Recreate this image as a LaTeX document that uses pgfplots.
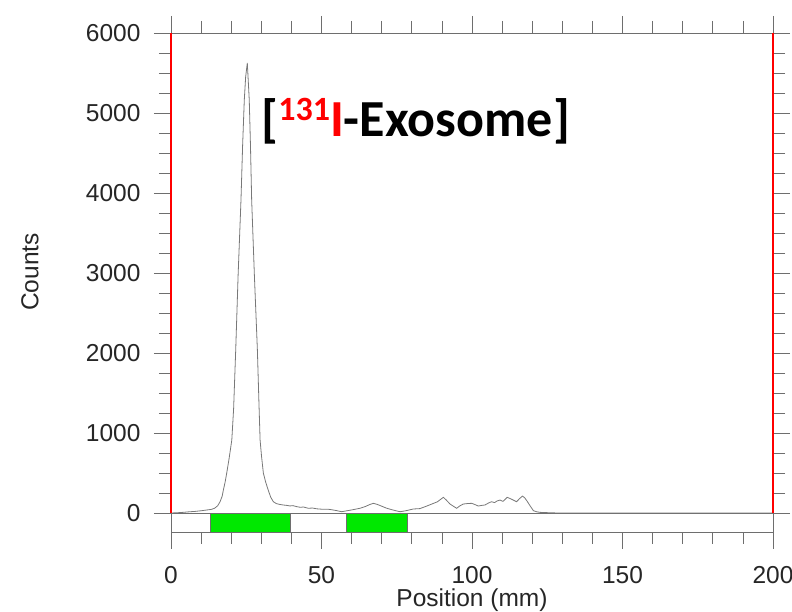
\documentclass[border=0pt]{standalone}
\usepackage{pgfplots}
\pgfplotsset{compat=1.18}
\usepackage{fontspec}
\setmainfont{Liberation Sans}
\newfontfamily\calibri{Carlito}
\definecolor{axgray}{RGB}{110,110,110}
\definecolor{curvegray}{RGB}{120,120,120}
\definecolor{roigreen}{RGB}{0,232,0}
\begin{document}
\begin{tikzpicture}
\begin{axis}[
  at={(0,0)}, anchor=south west,
  scale only axis, width=602pt, height=499pt,
  xmin=0, xmax=200, ymin=-237.5, ymax=6000,
  axis line style={draw=none},
  xtick={0,50,100,150,200}, minor x tick num=4,
  ytick={0,1000,2000,3000,4000,5000,6000}, minor y tick num=3,
  tick align=outside, major tick length=17pt, minor tick length=12pt,
  tick style={axgray, line width=0.8pt},
  /pgf/number format/assume math mode=true,
  scaled y ticks=false,
  yticklabel={\pgfmathprintnumber[fixed,1000 sep={}]{\tick}},
  ticklabel style={font=\fontsize{24.5}{28}\selectfont, text=black!85},
  yticklabel style={xshift=-10pt},
  xticklabel style={yshift=-14pt},
  xlabel={Position (mm)}, ylabel={Counts},
  label style={font=\fontsize{24.5}{28}\selectfont, text=black!85},
  xlabel style={at={(axis description cs:0.5,0)}, anchor=base, yshift=-75pt},
  ylabel style={at={(axis description cs:-0.2342,0.521)}, anchor=center},
  clip=false,
]
% strip and frame lines
\draw[axgray, line width=0.8pt] (axis cs:0,-237.5) rectangle (axis cs:200,0);
\draw[axgray, line width=0.8pt] (axis cs:0,6000) -- (axis cs:200,6000);
% ROI bars
\addplot[draw=axgray, line width=0.5pt, fill=roigreen] coordinates {(13.2,0) (39.6,0) (39.6,-237.5) (13.2,-237.5)} -- cycle;
\addplot[draw=axgray, line width=0.5pt, fill=roigreen] coordinates {(58.1,0) (78.5,0) (78.5,-237.5) (58.1,-237.5)} -- cycle;
% curve
\addplot[curvegray, line width=0.8pt, mark=none] coordinates {
(0,0) (2,3) (4,8) (6,15) (8,20) (10,28) (12,38) (13.5,46) (14.5,60) (15.5,90)
(16.3,141) (17.0,210) (17.4,287) (18.0,390) (18.5,496) (19.3,680) (20.2,912)
(20.8,1300) (21.5,2037) (22.3,2975) (23.25,3912) (23.8,4600) (24.35,5162)
(24.8,5450) (25.35,5625) (25.6,5450) (26.0,5162) (26.4,4600) (26.8,3912)
(27.7,2975) (28.7,2037) (29.2,1400) (29.6,912) (30.1,700) (30.7,496) (31.5,380)
(32.3,287) (33.1,200) (34.0,141) (35.0,118) (36.0,108) (37.3,100) (38.5,95)
(39.5,88) (40.5,92) (41.8,79) (43,71) (44,75) (45.6,59) (47,62) (48.5,52)
(50.6,46) (52,48) (53.5,40) (55,30) (56.7,16) (58,25) (60,38) (62.8,59)
(64.5,80) (66,105) (67.2,121) (68.5,108) (70,85) (71.7,59) (73,45) (74.5,30)
(76.1,16) (78,28) (80.5,50) (82.7,55) (84.5,80) (86.5,110) (88.5,140)
(90.5,196) (91.5,160) (92.7,112) (94,80) (94.9,59) (96,90) (97.1,112)
(98.5,118) (99.9,121) (101,105) (102.1,87) (103.2,95) (104.3,100) (105.5,125)
(106.5,141) (107.5,130) (108.3,150) (109.3,162) (110.3,145) (111.7,196)
(113,175) (114.8,141) (115.8,180) (116.8,212) (117.5,190) (118.2,154)
(119.3,90) (120.4,29) (121.5,15) (122.6,8) (124.8,5) (126,2) (130,0) (200,0)
};
% red edge lines
\draw[red, line width=2.5pt] (axis cs:0,0) -- (axis cs:0,6000);
\draw[red, line width=2.5pt] (axis cs:200,0) -- (axis cs:200,6000);
% title
\node[anchor=base west, inner sep=0pt, font=\calibri\bfseries\fontsize{52}{62}\selectfont]
  at (axis cs:30.0,4712) {[\raisebox{16pt}{\textcolor{red}{\fontsize{34}{40}\selectfont 131}}\textcolor{red}{I}-Exosome]};
\end{axis}
\pgfresetboundingbox
\path (-171pt,-80pt) rectangle (621pt,532pt);
\end{tikzpicture}
\end{document}
